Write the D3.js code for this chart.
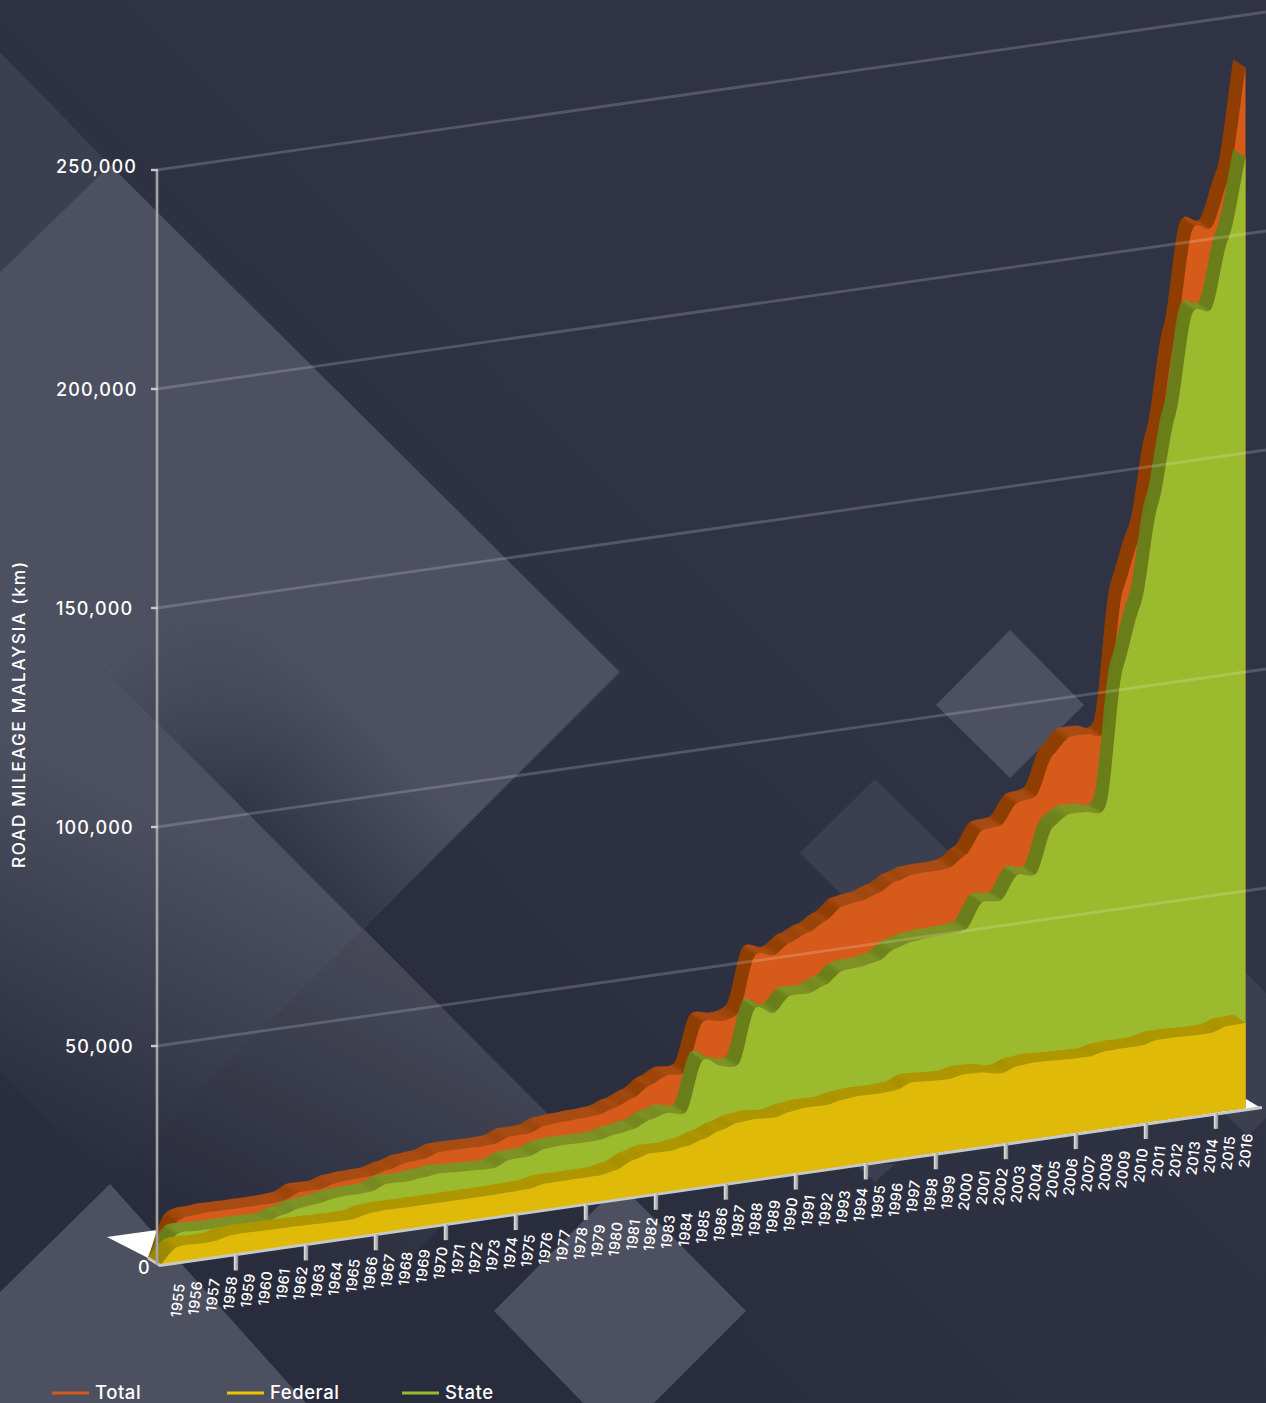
<!DOCTYPE html>
<html><head><meta charset="utf-8">
<style>html,body{margin:0;padding:0;background:#303344}svg{display:block}text{font-family:Inter,"Open Sans",sans-serif;fill:#fff}</style>
<script src="https://cdn.jsdelivr.net/npm/d3@7/dist/d3.min.js"></script></head><body>
<script>
const years = d3.range(1955, 2017);
const total = [9500,10300,10500,10400,10400,10400,10600,12100,12000,12900,13200,
 13300,14200,15200,15500,16600,16600,16500,16600,17800,17800,
 19100,19400,19600,19800,21000,22500,24900,26600,26700,37600,
 37200,38400,51200,50500,52900,54500,56600,59400,60000,61200,
 63200,64300,64400,64600,67000,72200,72600,77400,78200,87000,
 90600,90600,91000,122300,134300,155400,178800,202600,202000,212400,237500];
const federal = [3600,3600,3600,4400,4500,4400,4400,4300,4200,4100,4100,
 4900,5100,5000,5000,5000,5000,5000,5000,5100,5200,
 5900,5900,5900,5900,6600,8300,9300,9200,9700,10800,
 12200,13400,13700,13400,14200,14600,14500,15200,15500,15400,
 15600,16900,16600,16400,17000,16800,16000,17100,17400,17200,
 17000,16900,17600,17700,17700,18500,18500,18300,18300,19300,19400];
const state = [6600,6600,6500,6500,6500,6300,7400,8400,8800,9500,9700,
 9800,11100,10900,11300,11700,11400,11200,11100,12500,12600,
 13800,14100,14000,14000,14800,15400,17000,18000,17500,28900,
 27000,26700,39000,37300,40700,40600,42000,44700,45000,45700,
 48000,49000,49400,49500,50000,55700,55500,60800,60300,70500,
 73000,72800,73500,104500,118300,140600,160500,183500,183400,198800,217000];
const yTicks = [0,50000,100000,150000,200000,250000];
const legendNames = ["Total","Federal","State"];

const W=1266,H=1403;
const svg=d3.select("body").append("svg").attr("width",W).attr("height",H).attr("viewBox",`0 0 ${W} ${H}`);
const defs=svg.append("defs");
function grad(id,x1,y1,x2,y2,stops){
  const g=defs.append("linearGradient").attr("id",id).attr("gradientUnits","userSpaceOnUse")
    .attr("x1",x1).attr("y1",y1).attr("x2",x2).attr("y2",y2);
  stops.forEach(s=>g.append("stop").attr("offset",s[0]).attr("stop-color",s[1]).attr("stop-opacity",s[2]==null?1:s[2]));
}
grad("bgDark",300,1050,800,550,[[0,"#292c3c"],[0.45,"#2d3040"],[1,"#303344"]]);
grad("lowerLeft",260,860,100,1170,[[0,"#4d5060"],[0.55,"#3a3d4d"],[1,"#2a2d3d"]]);
grad("shadow",234,800,340,694,[[0,"#333646"],[1,"#333646",0]]);
grad("shadowFade",105,670,240,805,[[0,"#4d5060"],[1,"#4d5060",0]]);
grad("tick",0,0,1,0,[[0,"#e8e8e8"],[1,"#8f8f8f"]]);
d3.select("#tick").attr("gradientUnits","objectBoundingBox");

const bg=svg.append("g");
const poly=(pts,fill,op)=>bg.append("polygon").attr("points",pts.map(p=>p.join(",")).join(" ")).attr("fill",fill).attr("opacity",op==null?1:op);
poly([[0,0],[W,0],[W,H],[0,H]],"url(#bgDark)");
poly([[0,52],[110,165],[0,272]],"#3c3f4f");
// large lower-left plane
poly([[105,670],[551,1117],[265,1403],[0,1403],[0,565]],"url(#lowerLeft)");
poly([[363,929],[551,1117],[265,1403],[0,1403],[0,1292]],"#2a2d3d",0.12);
// large upper diamond
poly([[0,272],[110,165],[620,672],[363,929],[105,670],[60,680],[0,640]],"#4d5060");
poly([[105,670],[363,929],[620,672],[362,414]],"url(#shadow)");
poly([[105,670],[363,929],[481,811],[222,553]],"url(#shadowFade)");
poly([[0,1070],[110,1184],[0,1292]],"#2a2d3d",0.6);
// small diamonds
poly([[875,779],[800,853],[875,928],[950,853]],"#3c3f4f");
poly([[1010,630],[936,705],[1010,778],[1084,705]],"#4d5060");
poly([[855,1164],[875,1182],[895,1164]],"#3c3f4f");
poly([[1246,973],[1266,993],[1266,1118],[1248,1136],[1226,1115]],"#3c3f4f");
// bottom diamonds
poly([[110,1184],[0,1292],[0,H],[306,H]],"#4d5060");
poly([[494,1311],[620,1184],[746,1311],[654,H],[583,H]],"#4d5060");

// ---- scales
const x=d3.scaleLinear().domain([1954,2016]).range([160.5,1245.5]);
const tickX=d3.scaleLinear().domain([1955,2016]).range([183.5,1251]);
const labelX=d3.scaleLinear().domain([1955,2016]).range([178,1246]);
const baseY=d3.scaleLinear().domain([160,1246]).range([1265,1108]);
const height=d3.scaleLinear().domain([0,250000]).range([0,1095]);
const axisY=v=>1265-height(v);
const gridEnd=d=>axisY(d)-158;
const depth={dx:-12,dy:-8};

// Spline with tangents softened toward flat at each point: each year reads as a small step.
function softStep(context){
  const k=0.5; let p;
  return {
    areaStart(){this._line=0;}, areaEnd(){context.closePath();this._line=undefined;},
    lineStart(){p=[];}, point(a,b){p.push([+a,+b]);},
    lineEnd(){
      const n=p.length; if(!n) return;
      if(this._line===1) context.lineTo(p[0][0],p[0][1]); else context.moveTo(p[0][0],p[0][1]);
      const slope=i=>{
        if(i===0||i===n-1){const a=p[i===0?0:n-2],b=p[i===0?1:n-1];return (b[1]-a[1])/((b[0]-a[0])||1);}
        return k*(p[i+1][1]-p[i-1][1])/((p[i+1][0]-p[i-1][0])||1);
      };
      for(let i=0;i<n-1;i++){
        const h=(p[i+1][0]-p[i][0])/3;
        context.bezierCurveTo(p[i][0]+h,p[i][1]+h*slope(i),p[i+1][0]-h,p[i+1][1]-h*slope(i+1),p[i+1][0],p[i+1][1]);
      }
      if(this._line===0) this._line=1;
    }
  };
}

// floor
svg.append("polygon").attr("points","107,1237 157,1230 1246,1099 1261,1108 160,1265 148,1258").attr("fill","#fff");

const pts=(vals)=>[{yr:1954,v:0}].concat(years.map((y,i)=>({yr:y,v:vals[i]})));
const line=d3.line().x(d=>x(d.yr)).y(d=>baseY(x(d.yr))-height(d.v)).curve(softStep);
const area=d3.area().x(d=>x(d.yr)).y1(d=>baseY(x(d.yr))-height(d.v)).y0(d=>baseY(x(d.yr))).curve(softStep);

const seriesDefs=[
 {name:"Total",vals:total,front:"#d65b1a",flat:"#ae4e12",steep:"#933f00"},
 {name:"State",vals:state,front:"#9cba2e",flat:"#7b9526",steep:"#67801b"},
 {name:"Federal",vals:federal,front:"#dfba09",flat:"#b09600",steep:"#a08800"}
];
const chart=svg.append("g");
const measure=svg.append("path").attr("fill","none").attr("stroke","none");
seriesDefs.forEach(s=>{
  const data=pts(s.vals);
  const bandG=chart.append("g");
  measure.attr("d",line(data));
  const node=measure.node(), L=node.getTotalLength(), step=1.5;
  const samples=d3.range(0,L,step).concat([L]).map(l=>node.getPointAtLength(l));
  const quads=d3.pairs(samples);
  const col=d3.scaleLinear().domain([0.25,1.1]).range([s.flat,s.steep]).clamp(true);
  bandG.selectAll("path").data(quads).join("path")
    .attr("d",([a,b])=>`M${a.x},${a.y}L${b.x},${b.y}L${b.x+depth.dx},${b.y+depth.dy}L${a.x+depth.dx},${a.y+depth.dy}Z`)
    .attr("fill",([a,b])=>col(Math.abs((b.y-a.y)/Math.max(0.001,b.x-a.x))))
    .attr("stroke",([a,b])=>col(Math.abs((b.y-a.y)/Math.max(0.001,b.x-a.x))))
    .attr("stroke-width",0.6);
  chart.append("path").attr("d",area(data)).attr("fill",s.front);
});
measure.remove();

// base strip
svg.append("path").attr("d","M148,1258L160,1265.5L1262,1107.5").attr("fill","none").attr("stroke","#c8c8c8").attr("stroke-width",2.8);

// x ticks every 4 years
svg.append("g").selectAll("rect").data(years.filter(y=>(y-1958)%4===0&&y>=1958)).join("rect")
  .attr("x",d=>tickX(d)-2.2).attr("y",d=>baseY(tickX(d))+0.5).attr("width",4.4).attr("height",16).attr("fill","url(#tick)");

// gridlines
svg.append("g").selectAll("line").data(yTicks.filter(d=>d>0)).join("line")
  .attr("x1",157).attr("x2",W).attr("y1",axisY).attr("y2",gridEnd)
  .attr("stroke","#fff").attr("stroke-opacity",0.18).attr("stroke-width",2.8);
// y axis line
svg.append("line").attr("x1",157).attr("x2",157).attr("y1",axisY(250000)).attr("y2",1265).attr("stroke","#a3a3a6").attr("stroke-width",2.6);
svg.append("g").selectAll("line").data(yTicks.filter(d=>d>0)).join("line")
  .attr("x1",151).attr("x2",158).attr("y1",axisY).attr("y2",axisY).attr("stroke","#c9c9c9").attr("stroke-width",2.4);

// y labels
const fmt=d3.format(",");
svg.append("g").selectAll("text").data(yTicks).join("text")
  .attr("x",d=>d===0?138:(d===50000?65:56))
  .attr("y",d=>d===0?1274:axisY(d)+(d===250000?2.5:6.5))
  .attr("font-size",18).attr("font-weight",500).attr("letter-spacing",1.1).text(fmt);

// axis title
svg.append("text").attr("transform","translate(24.5,868) rotate(-90)").attr("font-size",17.2).attr("font-weight",500)
  .attr("textLength",306).attr("lengthAdjust","spacing").text("ROAD MILEAGE MALAYSIA (km)");

// x labels
const labelTop=d3.scaleLinear().domain([178,1246]).range([1284,1134]);
svg.append("g").selectAll("text").data(years).join("text")
  .attr("transform",d=>`translate(${labelX(d)+7},${labelTop(labelX(d))}) rotate(-83)`)
  .attr("text-anchor","end").attr("font-size",14.5).attr("font-weight",500).attr("letter-spacing",0.3).text(d=>d);

// legend
const legendX=d3.scaleOrdinal().domain(legendNames).range([52,227,402]);
const legendCol=d3.scaleOrdinal().domain(legendNames).range(["#d65b1a","#eec400","#9cba2e"]);
const lg=svg.append("g").selectAll("g").data(legendNames).join("g").attr("transform",d=>`translate(${legendX(d)},1393)`);
lg.append("line").attr("x1",0).attr("x2",37).attr("stroke",legendCol).attr("stroke-width",3);
lg.append("text").attr("x",43).attr("y",5.5).attr("font-size",18.5).attr("font-weight",500).attr("letter-spacing",0.55).text(d=>d);
</script></body></html>
